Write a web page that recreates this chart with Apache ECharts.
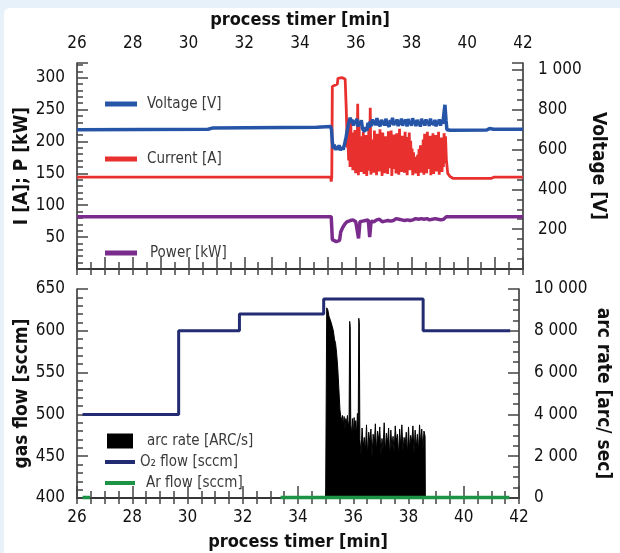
<!DOCTYPE html>
<html><head><meta charset="utf-8">
<script src="https://cdn.jsdelivr.net/npm/echarts@6/dist/echarts.min.js"></script>
<style>
html,body{margin:0;padding:0;background:#e7f1fa;overflow:hidden;}
#bg{position:absolute;left:4px;top:8px;width:616px;height:545px;background:#fff;border-top-left-radius:6px;}
#chart{position:absolute;left:0;top:0;width:620px;height:553px;}
</style></head><body><div id="bg"></div><div id="chart"></div>
<script>
// ---------- data ----------
const timeMin = 26, timeMax = 42;

// Current [A] (left axis, top panel)
const currentHead = [[26,144],[35.1,144],[35.12,137],[35.14,144],[35.16,286],[35.34,290],[35.36,299],[35.5,300],[35.62,298],[35.66,250],[35.7,190]];
const currentNoiseStart = 35.72, currentNoiseStep = 0.025;
const currentNoise = [
 205,170,228,160,236,172,214,155,196,163,
 218,150,190,158,259,147,226,166,208,152,
 197,171,215,149,184,160,210,146,199,175,
 221,154,253,148,203,167,186,151,217,162,
 192,147,212,170,201,153,219,160,188,146,
 214,164,195,150,208,173,183,149,216,158,
 199,168,217,146,190,157,211,171,185,150,
 213,159,196,148,220,166,187,152,209,174,
 194,151,215,163,182,147,207,169,214,155,
 201,160,189,147,183,165,176,150,172,158,
 179,146,188,163,194,151,185,158,203,148,
 212,166,197,150,215,157,190,171,209,147,
 188,160,213,149,199,168,210,153,184,162,
 215,148,196,171,206,152,189,160,213,166,
 208];
const currentTail = [[39.25,172],[39.3,150],[39.38,145],[39.5,142],[40.85,142],[40.95,144],[42,144]];

// Voltage [V] (right axis, top panel)
const voltageHead = [[26,700],[30.7,702],[30.85,708],[34.6,712],[35.1,716],[35.13,700],[35.16,640],[35.19,605],[35.23,625],[35.27,598],[35.31,615],[35.35,600],[35.4,622],[35.45,597],[35.5,612],[35.55,600],[35.6,628],[35.65,660],[35.7,700],[35.75,735]];
const voltageNoiseStart = 35.8, voltageNoiseStep = 0.04;
const voltageNoise = [
 760,735,750,720,745,730,755,715,740,725,
 748,705,700,690,712,695,735,710,742,718,
 752,728,745,722,758,730,740,718,750,726,
 744,720,755,732,738,715,748,728,760,722,
 742,730,752,718,745,726,756,720,740,732,
 748,716,754,728,742,720,758,730,745,718,
 750,725,740,715,755,728,746,720,752,730,
 744,718,756,726,740,722,750,716,745,728,
 752,720,746,730,740,825];
const voltageTail = [[39.24,745],[39.27,700],[39.4,697],[40.7,698],[40.8,706],[40.95,702],[42,702]];

// Power [kW] (left axis, top panel)
const powerHead = [[26,82],[35.12,82],[35.14,65],[35.16,46],[35.3,43],[35.42,45],[35.46,58],[35.52,64],[35.6,70],[35.68,74]];
const powerNoiseStart = 35.75, powerNoiseStep = 0.05;
const powerNoise = [
 74,76,73,77,75,74,76,48,74,77,
 75,73,76,74,77,50,75,78,74,76,
 77,75,78,76,74,77,75,78,76,77,
 75,78,76,77,79,76,78,75,77,79,
 76,78,77,79,76,78,77,75,79,77,
 78,76,79,77,78,76,79,78,77,79,
 78,77,79,76,78,80,77,79,78,80];
const powerTail = [[39.25,82],[42,82]];

// Arc rate [ARC/s] (right axis, bottom panel)
const arcHead = [[35.0,0],[35.03,0],[35.04,9100],[35.08,9000],[35.12,8700],[35.16,8650],[35.2,8400],[35.24,8200],[35.28,8000],[35.32,7600],[35.36,7400],[35.4,6900],[35.44,6200],[35.48,5200],[35.52,4200],[35.55,3900],[35.58,3700],[35.61,3950],[35.64,3500],[35.67,3900],[35.7,3300],[35.73,3800],[35.76,3600],[35.79,3950],[35.82,3400],[35.85,3700],[35.87,8450],[35.89,8200],[35.91,3500],[35.94,3100],[35.97,3800],[36.0,2900],[36.03,3850],[36.06,3200],[36.09,3700],[36.12,3000],[36.15,4050],[36.18,3300],[36.2,8600],[36.22,8400],[36.24,2800]];
const arcNoiseStart = 36.28, arcNoiseStep = 0.04;
const arcNoise = [
 2100,3350,2450,2900,2250,3500,2000,3150,2650,3300,
 1950,3050,2500,3550,2200,3200,2750,3400,2050,2850,
 2350,3600,2150,3100,2600,3350,1900,3250,2400,2950,
 2200,3450,2700,3050,2000,3300,2450,3500,2250,2900,
 2550,3150,2100,3400,2350,3000,2650,3450,2150,3250,
 2400,3050,2250,3500,2600,3300,2300,3200,2950];
const arcTail = [[38.61,0]];

// O2 flow [sccm] (left axis, bottom panel)
const o2Flow = [[26.2,500],[29.68,500],[29.68,600],[31.88,600],[31.88,620],[34.93,620],[34.93,638],[38.53,638],[38.53,600],[41.68,600]];
// Ar flow [sccm] (left axis, bottom panel)
const arFlow = [[26.2,400.6],[26.47,400.6],[26.5,'-'],[33.37,400.6],[41.65,400.6]];

// ---------- helpers ----------
function withNoise(head, start, step, vals, tail){
  return head.concat(vals.map((v,i)=>[+(start+i*step).toFixed(3), v]), tail);
}
const spaced = v => String(v).replace(/\B(?=(\d{3})+(?!\d))/g,' ');
const FONT = "'DejaVu Sans Condensed','DejaVu Sans',sans-serif";
const AX = '#2a2a2a';
const axisLine = {show:true, lineStyle:{color:AX, width:1.5}};
const tickStyle = {color:'#444', width:1.5};
const lbl = {fontFamily:FONT, fontSize:17, color:'#111'};
const nameStyle = {fontFamily:FONT, fontSize:19, fontWeight:'bold', color:'#111'};

const chart = echarts.init(document.getElementById('chart'), null, {renderer:'canvas'});
function lg(name, left, top, w, h, pad){
  return {data:[name], left:left, top:top, icon:'rect', itemWidth:w, itemHeight:h, selectedMode:false,
    textStyle:{fontFamily:FONT, fontSize:15, color:'#3a3a3a', lineHeight:16, padding:[0,0,0,pad]}};
}
chart.setOption({
  animation:false,
  grid:[
    {left:77, top:63, width:446, height:206},
    {left:77, top:289, width:446, height:209}
  ],
  legend:[
    lg('Voltage [V]',100,91,32,5,5),
    lg('Current [A]',100,146,32,5,5),
    lg('Power [kW]',100,240,32,5,8),
    lg('arc rate [ARC/s]',102,428,26,15,9),
    lg('O₂ flow [sccm]',100,449,30,4,0),
    lg('Ar flow [sccm]',100,470,30,4,6)
  ],
  xAxis:[
    {gridIndex:0, type:'value', position:'top', min:timeMin, max:timeMax, interval:2,
     name:'process timer [min]', nameLocation:'middle', nameGap:34, nameMoveOverlap:false, nameTextStyle:Object.assign({},nameStyle,{fontSize:18}),
     axisLine:axisLine, axisTick:{inside:true,length:6,lineStyle:tickStyle},
     minorTick:{show:true,splitNumber:4,length:6,lineStyle:tickStyle},
     axisLabel:Object.assign({margin:11},lbl), splitLine:{show:false}},
    {gridIndex:0, type:'value', position:'bottom', min:timeMin, max:timeMax, interval:1,
     axisLine:axisLine, axisTick:{inside:true,length:12,lineStyle:tickStyle},
     minorTick:{show:true,splitNumber:2,length:7,lineStyle:tickStyle},
     axisLabel:{show:false}, splitLine:{show:false}},
    {gridIndex:1, type:'value', position:'top', min:timeMin, max:timeMax, interval:2,
     axisLine:axisLine, axisTick:{inside:true,length:6,lineStyle:tickStyle},
     minorTick:{show:true,splitNumber:4,length:6,lineStyle:tickStyle},
     axisLabel:{show:false}, splitLine:{show:false}},
    {gridIndex:1, type:'value', position:'bottom', min:timeMin, max:timeMax, interval:2,
     name:'process timer [min]', nameLocation:'middle', nameGap:35, nameMoveOverlap:false, nameTextStyle:Object.assign({},nameStyle,{fontSize:18}),
     axisLine:axisLine, axisTick:{inside:true,length:12,lineStyle:tickStyle},
     minorTick:{show:true,splitNumber:4,length:7,lineStyle:tickStyle},
     axisLabel:Object.assign({margin:11},lbl), splitLine:{show:false}}
  ],
  yAxis:[
    {gridIndex:0, type:'value', position:'left', min:0, max:323, interval:50,
     name:'I [A]; P [kW]', nameLocation:'middle', nameGap:45, nameMoveOverlap:false, nameTextStyle:nameStyle,
     axisLine:axisLine, axisTick:{inside:true,length:11,lineStyle:tickStyle},
     minorTick:{show:true,splitNumber:5,length:6,lineStyle:tickStyle},
     axisLabel:Object.assign({margin:12, formatter:v=>(v===0||v%50)?'':String(v)},lbl), splitLine:{show:false}},
    {gridIndex:0, type:'value', position:'right', min:0, max:1035, interval:200,
     name:'Voltage [V]', nameLocation:'middle', nameGap:65, nameRotate:-90, nameMoveOverlap:false, nameTextStyle:nameStyle,
     axisLine:axisLine, axisTick:{inside:true,length:11,lineStyle:tickStyle},
     minorTick:{show:true,splitNumber:4,length:6,lineStyle:tickStyle},
     axisLabel:Object.assign({margin:15, formatter:v=>(v===0||v%200)?'':spaced(v)},lbl), splitLine:{show:false}},
    {gridIndex:1, type:'value', position:'left', min:400, max:650, interval:50,
     name:'gas flow [sccm]', nameLocation:'middle', nameGap:45, nameMoveOverlap:false, nameTextStyle:nameStyle,
     axisLine:axisLine, axisTick:{inside:true,length:11,lineStyle:tickStyle},
     minorTick:{show:true,splitNumber:5,length:6,lineStyle:tickStyle},
     axisLabel:Object.assign({margin:12},lbl), splitLine:{show:false}},
    {gridIndex:1, type:'value', position:'right', min:0, max:10000, interval:2000,
     name:'arc rate [arc/ sec]', nameLocation:'middle', nameGap:74, nameRotate:-90, nameMoveOverlap:false, nameTextStyle:nameStyle,
     axisLine:axisLine, axisTick:{inside:true,length:11,lineStyle:tickStyle},
     minorTick:{show:true,splitNumber:4,length:6,lineStyle:tickStyle},
     axisLabel:Object.assign({margin:15, formatter:v=>spaced(v)},lbl), splitLine:{show:false}}
  ],
  series:[
    {name:'Current [A]', type:'line', xAxisIndex:0, yAxisIndex:0, showSymbol:false, color:'#e8312f',
     lineStyle:{color:'#e8312f', width:2.8}, data:withNoise(currentHead,currentNoiseStart,currentNoiseStep,currentNoise,currentTail)},
    {name:'Voltage [V]', type:'line', xAxisIndex:0, yAxisIndex:1, showSymbol:false, color:'#2655a8',
     lineStyle:{color:'#2655a8', width:3.5}, data:withNoise(voltageHead,voltageNoiseStart,voltageNoiseStep,voltageNoise,voltageTail)},
    {name:'Power [kW]', type:'line', xAxisIndex:0, yAxisIndex:0, showSymbol:false, color:'#7a2c8c',
     lineStyle:{color:'#7a2c8c', width:3.5}, data:withNoise(powerHead,powerNoiseStart,powerNoiseStep,powerNoise,powerTail)},
    {name:'arc rate [ARC/s]', type:'line', xAxisIndex:3, yAxisIndex:3, showSymbol:false, color:'#000',
     lineStyle:{color:'#000', width:1}, areaStyle:{color:'#000', opacity:1},
     data:withNoise(arcHead,arcNoiseStart,arcNoiseStep,arcNoise,arcTail)},
    {name:'O₂ flow [sccm]', type:'line', xAxisIndex:3, yAxisIndex:2, showSymbol:false, color:'#232c72',
     lineStyle:{color:'#232c72', width:3}, data:o2Flow},
    {name:'Ar flow [sccm]', type:'line', xAxisIndex:3, yAxisIndex:2, showSymbol:false, color:'#1d9445', clip:false,
     lineStyle:{color:'#1d9445', width:3.5}, data:arFlow}
  ]
});
</script></body></html>
